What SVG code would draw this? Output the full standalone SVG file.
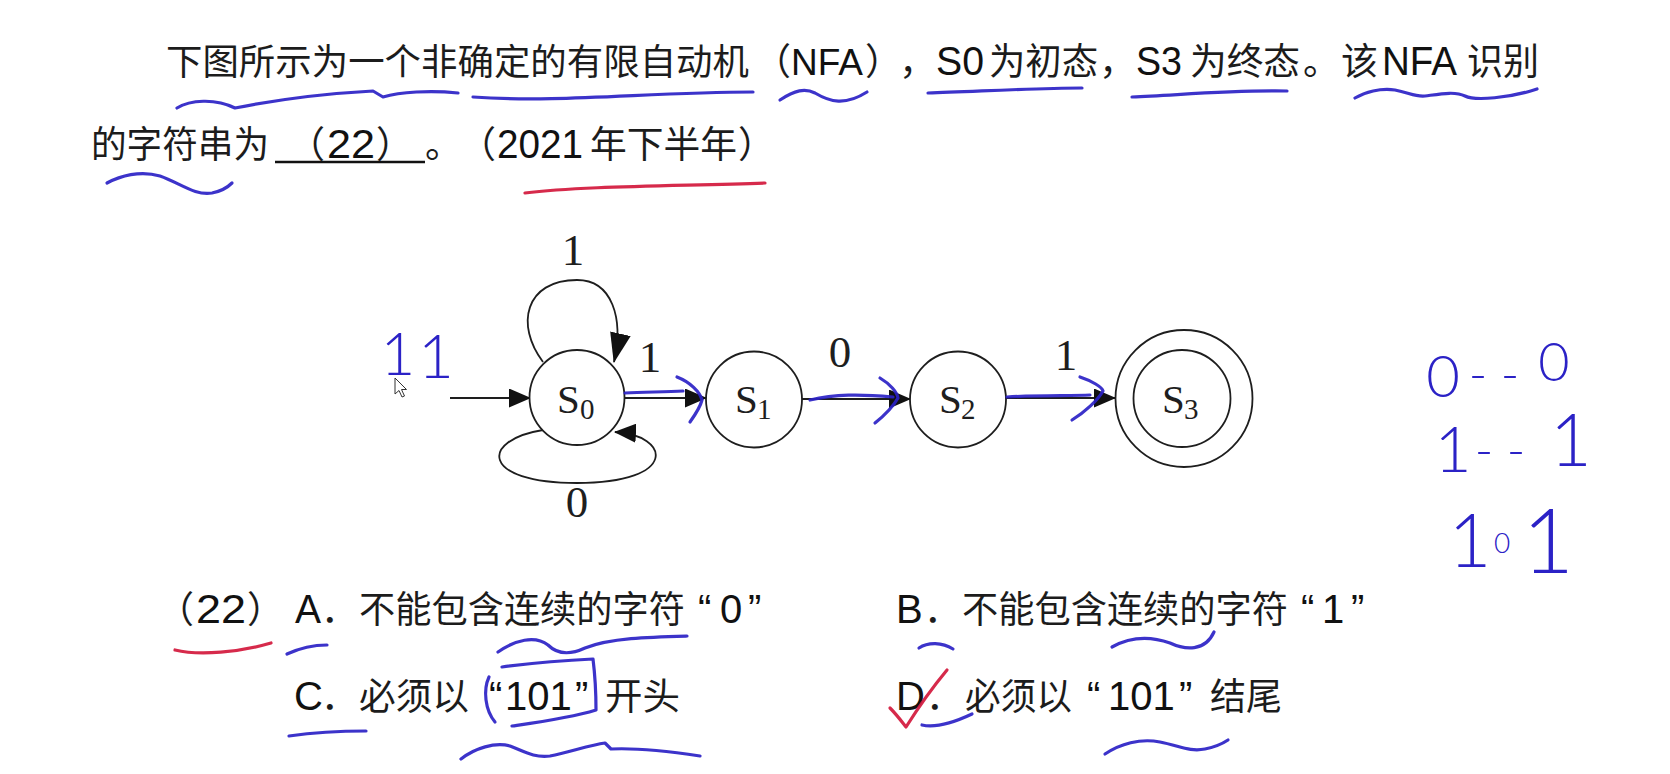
<svg xmlns="http://www.w3.org/2000/svg" width="1670" height="774" viewBox="0 0 1670 774">
<style>
.cjk{font-family:"Noto Sans CJK SC","Noto Sans",sans-serif;font-size:37px;fill:#1c1c1c}
.lat{font-family:"Liberation Sans",Arial,"Noto Sans CJK SC",sans-serif;font-size:40px;fill:#111}
.tm{font-family:"Liberation Serif","Times New Roman",serif;fill:#1e1e1e}
.st{font-size:41px}
.sub{font-size:29px}
.lbl{font-size:45px;text-anchor:middle}
.node{fill:#fff;stroke:#1e1e1e;stroke-width:1.8}
.edge{fill:none;stroke:#1e1e1e;stroke-width:1.8}
.blue{fill:none;stroke:#2b22c6;stroke-width:3.2;stroke-linecap:round;stroke-linejoin:round;opacity:.92}
.red{fill:none;stroke:#d3183c;stroke-width:3.2;stroke-linecap:round;stroke-linejoin:round;opacity:.92}
.hw{font-family:Lato,"DejaVu Sans",sans-serif;font-weight:300;fill:#2b22c6;text-anchor:middle}
</style>
<defs>
<marker id="ah" markerUnits="userSpaceOnUse" markerWidth="22" markerHeight="19" refX="21" refY="9.5" orient="auto">
<path d="M0,0 L22,9.5 L0,19 Z" fill="#111"/>
</marker>
<marker id="ahl" markerUnits="userSpaceOnUse" markerWidth="30" markerHeight="21" refX="29" refY="10.5" orient="auto">
<path d="M0,0 L30,10.5 L0,21 Z" fill="#111"/>
</marker>
</defs>
<rect width="1670" height="774" fill="#fff"/>

<g id="question">
<text class="cjk" x="166" y="75" style="font-size:36px" textLength="583" lengthAdjust="spacingAndGlyphs">下图所示为一个非确定的有限自动机</text>
<text class="cjk" x="754" y="75">（</text>
<text class="lat" x="791" y="75" style="font-size:37px" textLength="72" lengthAdjust="spacingAndGlyphs">NFA</text>
<text class="cjk" x="865" y="75">）</text>
<text class="cjk" x="899" y="75">，</text>
<text class="lat" x="936" y="75" textLength="48" lengthAdjust="spacingAndGlyphs">S0</text>
<text class="cjk" x="989" y="75" textLength="109" lengthAdjust="spacingAndGlyphs">为初态</text>
<text class="cjk" x="1099" y="75">，</text>
<text class="lat" x="1136" y="75" textLength="46" lengthAdjust="spacingAndGlyphs">S3</text>
<text class="cjk" x="1190" y="75" textLength="110" lengthAdjust="spacingAndGlyphs">为终态</text>
<text class="cjk" x="1303" y="75">。</text>
<text class="cjk" x="1341" y="75">该</text>
<text class="lat" x="1382" y="75" textLength="75" lengthAdjust="spacingAndGlyphs">NFA</text>
<text class="cjk" x="1467" y="75" textLength="72" lengthAdjust="spacingAndGlyphs">识别</text>

<text class="cjk" x="91" y="158" textLength="178" lengthAdjust="spacingAndGlyphs">的字符串为</text>
<text class="cjk" x="288" y="158">（</text>
<text class="lat" x="327" y="158" textLength="48" lengthAdjust="spacingAndGlyphs">22</text>
<text class="cjk" x="376" y="158">）</text>
<line x1="275" y1="162" x2="425" y2="162" stroke="#111" stroke-width="2.6"/>
<text class="cjk" x="425" y="158">。</text>
<text class="cjk" x="459" y="158">（</text>
<text class="lat" x="497" y="158" textLength="86" lengthAdjust="spacingAndGlyphs">2021</text>
<text class="cjk" x="590" y="158" textLength="147" lengthAdjust="spacingAndGlyphs">年下半年</text>
<text class="cjk" x="738" y="158">）</text>
</g>

<g id="connectors">
<line class="edge" x1="450" y1="398" x2="530" y2="398" marker-end="url(#ah)"/>
<path class="edge" d="M543,362 C515,325 525,280 577,280 C612,280 624,318 614,362" marker-end="url(#ahl)"/>
<path class="edge" d="M543,430 C480,440 480,483 577,483 C680,483 670,435 615,432" marker-end="url(#ah)"/>
<line class="edge" x1="625" y1="398" x2="706" y2="398" marker-end="url(#ah)"/>
<line class="edge" x1="802" y1="399" x2="910" y2="399" marker-end="url(#ah)"/>
<line class="edge" x1="1006" y1="398" x2="1115" y2="398" marker-end="url(#ah)"/>
<text class="tm lbl" x="573" y="265">1</text>
<text class="tm lbl" x="577" y="517">0</text>
<text class="tm lbl" x="650" y="372">1</text>
<text class="tm lbl" x="840" y="367">0</text>
<text class="tm lbl" x="1066" y="370">1</text>
</g>

<g id="S0">
<circle class="node" cx="577" cy="397.5" r="47.5"/>
<text class="tm st" x="557" y="413">S</text><text class="tm sub" x="580" y="419">0</text>
</g>
<g id="S1">
<circle class="node" cx="754" cy="399.5" r="48"/>
<text class="tm st" x="735" y="413">S</text><text class="tm sub" x="757" y="419">1</text>
</g>
<g id="S2">
<circle class="node" cx="958" cy="399.5" r="48"/>
<text class="tm st" x="939" y="413">S</text><text class="tm sub" x="961" y="419">2</text>
</g>
<g id="S3">
<circle class="node" cx="1184" cy="398.5" r="68.5"/>
<circle class="node" cx="1182" cy="398.5" r="48.5"/>
<text class="tm st" x="1162" y="413">S</text><text class="tm sub" x="1184" y="419">3</text>
</g>

<g id="options">
<text class="cjk" x="157" y="623">（</text>
<text class="lat" x="196" y="623" textLength="50" lengthAdjust="spacingAndGlyphs">22</text>
<text class="cjk" x="247" y="623">）</text>
<text class="lat" x="295" y="623" textLength="26" lengthAdjust="spacingAndGlyphs">A</text>
<text class="cjk" x="321" y="623">．</text>
<text class="cjk" x="359" y="623" textLength="326" lengthAdjust="spacingAndGlyphs">不能包含连续的字符</text>
<text class="lat" x="698" y="623">“</text>
<text class="lat" x="720" y="623">0</text>
<text class="lat" x="748" y="623">”</text>

<text class="lat" x="896" y="623">B</text>
<text class="cjk" x="924" y="623">．</text>
<text class="cjk" x="962" y="623" textLength="326" lengthAdjust="spacingAndGlyphs">不能包含连续的字符</text>
<text class="lat" x="1301" y="623">“</text>
<text class="lat" x="1322" y="623">1</text>
<text class="lat" x="1351" y="623">”</text>

<text class="lat" x="294" y="710">C</text>
<text class="cjk" x="321" y="710">．</text>
<text class="cjk" x="359" y="710" textLength="110" lengthAdjust="spacingAndGlyphs">必须以</text>
<text class="lat" x="489" y="710">“</text>
<text class="lat" x="505" y="710">101</text>
<text class="lat" x="575" y="710">”</text>
<text class="cjk" x="605" y="710" textLength="75" lengthAdjust="spacingAndGlyphs">开头</text>

<text class="lat" x="896" y="710">D</text>
<text class="cjk" x="926" y="710">．</text>
<text class="cjk" x="965" y="710" textLength="107" lengthAdjust="spacingAndGlyphs">必须以</text>
<text class="lat" x="1087" y="710">“</text>
<text class="lat" x="1108" y="710">101</text>
<text class="lat" x="1179" y="710">”</text>
<text class="cjk" x="1210" y="710" textLength="72" lengthAdjust="spacingAndGlyphs">结尾</text>
</g>

<g id="annotations">
<path class="blue" d="M177,108 C190,100 215,98 235,108 C255,104 300,95 373,91 L383,97 C400,92 430,90 458,93"/>
<path class="blue" d="M473,97 C560,103 650,92 753,92"/>
<path class="blue" d="M780,100 C795,90 805,88 815,93 C830,102 845,106 867,92"/>
<path class="blue" d="M928,93 C970,92 1030,88 1082,88"/>
<path class="blue" d="M1132,97 C1180,95 1230,90 1287,91"/>
<path class="blue" d="M1355,98 C1365,92 1380,88 1395,90 C1410,93 1415,97 1425,96 C1440,94 1455,91 1465,96 C1475,101 1510,98 1537,89"/>
<path class="blue" d="M107,183 C120,176 140,170 160,176 C180,183 195,196 212,193 C222,191 228,187 232,183"/>
<path class="red" d="M525,193 C580,186 680,186 765,183"/>

<path class="blue" d="M625,393 C645,392 665,392 683,391"/>
<path class="blue" d="M677,377 C690,382 700,392 702,400 C700,408 695,415 690,422"/>
<path class="blue" d="M810,400 C835,394 860,394 893,397"/>
<path class="blue" d="M880,378 C890,384 897,392 898,398 C894,405 885,415 875,423"/>
<path class="blue" d="M1007,397 C1040,395 1070,396 1090,395"/>
<path class="blue" d="M1080,377 C1092,381 1102,387 1103,391 C1098,400 1085,412 1072,420"/>

<path class="red" d="M175,650 C200,656 240,652 271,643"/>
<path class="blue" d="M287,654 C300,648 315,645 327,645"/>
<path class="blue" d="M498,652 C515,640 535,635 548,645 C558,655 570,655 585,648 C610,638 650,637 687,636"/>
<path class="blue" d="M502,667 C540,662 570,660 593,659 C595,675 596,695 596,710 C570,718 540,722 512,726"/>
<path class="blue" d="M489,677 C483,690 485,710 495,722"/>
<path class="blue" d="M289,736 C310,733 340,731 366,731"/>
<path class="blue" d="M461,759 C475,748 495,742 510,746 C525,752 535,758 550,756 C570,752 590,745 605,743 L611,749 C630,748 660,750 700,756"/>
<path class="blue" d="M919,648 C928,642 942,642 953,649"/>
<path class="blue" d="M1112,647 C1130,637 1150,636 1170,643 C1185,650 1205,652 1214,632"/>
<path class="red" d="M890,708 C897,715 902,722 906,727 C918,708 932,688 947,670"/>
<path class="blue" d="M922,725 C935,728 955,722 972,714"/>
<path class="blue" d="M1105,754 C1120,744 1140,738 1160,742 C1180,746 1190,752 1205,749 C1215,747 1222,744 1228,740"/>

<text class="hw" x="398" y="375" font-size="60">1</text>
<text class="hw" x="436" y="378" font-size="62">1</text>
<path d="M395,378 L395,394 L399,390.5 L402,397 L404.5,396 L401.5,389.5 L406.5,389.5 Z" fill="#fff" stroke="#333" stroke-width="1"/>

<text class="hw" x="1443" y="397" font-size="58">0</text>
<text class="hw" x="1494" y="392" font-size="50">- -</text>
<text class="hw" x="1554" y="381" font-size="54">0</text>
<text class="hw" x="1453" y="472" font-size="64">1</text>
<text class="hw" x="1500" y="468" font-size="50">- -</text>
<text class="hw" x="1571" y="466" font-size="72">1</text>
<text class="hw" x="1470" y="567" font-size="74">1</text>
<text class="hw" x="1502" y="553" font-size="28">0</text>
<text class="hw" x="1548" y="573" font-size="90">1</text>
</g>
</svg>
